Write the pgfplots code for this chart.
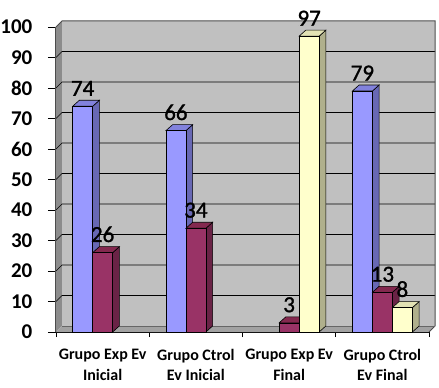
\documentclass[border=0pt]{standalone}
\usepackage{pgfplots}
\pgfplotsset{compat=1.18}
\usepackage{fontspec}
\setmainfont{Carlito}
\newfontface\vfont[FakeBold=1.2]{Carlito}
\definecolor{bF}{HTML}{9999FF}\definecolor{bS}{HTML}{6868B4}\definecolor{bT}{HTML}{8282DC}
\definecolor{mF}{HTML}{993366}\definecolor{mS}{HTML}{6A2346}\definecolor{mT}{HTML}{84294F}
\definecolor{yF}{HTML}{FFFFCC}\definecolor{yS}{HTML}{B0B08C}\definecolor{yT}{HTML}{E2E2B4}
\definecolor{wallB}{HTML}{C0C0C0}\definecolor{wallL}{HTML}{8C8C8C}\definecolor{floorC}{HTML}{A2A2A2}
% 3D bar: #1 centre x, #2 value, #3 front, #4 side, #5 top
\newcommand\tdbar[5]{%
 \pgfmathsetmacro\xl{#1-0.10725}%
 \pgfmathsetmacro\xr{#1+0.10725}%
 \pgfmathsetmacro\xrd{#1+0.10725+0.072}%
 \pgfmathsetmacro\xld{#1-0.10725+0.072}%
 \pgfmathsetmacro\yd{#2+1.97}%
 \edef\tmp{%
  \noexpand\addplot[fill=#4,draw=black,line width=0.6pt] coordinates {(\xr,0) (\xrd,1.97) (\xrd,\yd) (\xr,#2)} -- cycle;
  \noexpand\addplot[fill=#5,draw=black,line width=0.6pt] coordinates {(\xl,#2) (\xld,\yd) (\xrd,\yd) (\xr,#2)} -- cycle;
  \noexpand\addplot[fill=#3,draw=black,line width=0.6pt] coordinates {(\xl,0) (\xr,0) (\xr,#2) (\xl,#2)} -- cycle;
 }\tmp}
\pgfplotsset{vlabel/.style={draw=none, mark=none, nodes near coords, nodes near coords style={text=black, font=\vfont\fontsize{23}{23}\selectfont, anchor=south, yshift=7pt}}}
\begin{document}
\begin{tikzpicture}
\begin{axis}[
 scale only axis, width=373pt, height=305pt,
 xmin=-0.5, xmax=3.5, ymin=0, ymax=100,
 clip=false,
 axis x line*=bottom, axis y line*=left,
 axis line style={black, line width=0.8pt},
 xtick={0,1,2,3},
 xticklabels={Grupo Exp Ev\\Inicial, Grupo Ctrol\\Ev Inicial, Grupo Exp Ev\\Final, Grupo Ctrol\\Ev Final},
 major x tick style={draw=none},
 minor xtick={-0.5,0.5,1.5,2.5,3.5},
 ytick={0,10,...,100},
 tick align=outside, major tick length=8pt, minor tick length=5pt,
 tick style={black, line width=0.8pt},
 /pgf/number format/assume math mode=true,
 yticklabel style={font=\fontsize{21}{21}\selectfont\bfseries, inner sep=0pt, xshift=-15.5pt},
 xticklabel style={font=\fontsize{16}{20.5}\selectfont\bfseries, align=center, inner sep=0pt, yshift=-9pt},
]
% walls and floor
\fill[wallL] (axis cs:-0.5,0) -- ([shift={(6pt,6pt)}]axis cs:-0.5,0) -- ([shift={(6pt,6pt)}]axis cs:-0.5,100) -- (axis cs:-0.5,100) -- cycle;
\fill[wallB] ([shift={(6pt,6pt)}]axis cs:-0.5,0) rectangle ([shift={(6pt,6pt)}]axis cs:3.5,100);
\fill[floorC] (axis cs:-0.5,0) -- (axis cs:3.5,0) -- ([shift={(6pt,6pt)}]axis cs:3.5,0) -- ([shift={(6pt,6pt)}]axis cs:-0.5,0) -- cycle;
\pgfplotsinvokeforeach{10,20,...,90}{
 \draw[black, line width=0.6pt] (axis cs:-0.5,#1) -- ([shift={(6pt,6pt)}]axis cs:-0.5,#1) -- ([shift={(6pt,6pt)}]axis cs:3.5,#1);
}
\draw[black!70, line width=1pt] (axis cs:-0.5,100) -- ([shift={(6pt,6pt)}]axis cs:-0.5,100) -- ([shift={(6pt,6pt)}]axis cs:3.5,100) -- ([shift={(6pt,6pt)}]axis cs:3.5,0) -- (axis cs:3.5,0);
\draw[black!60, line width=0.6pt] ([shift={(6pt,6pt)}]axis cs:-0.5,0) -- ([shift={(6pt,6pt)}]axis cs:3.5,0);
\draw[black!70, line width=1pt] (axis cs:-0.5,0) -- (axis cs:-0.5,100);
% maroon labels (drawn first, partly hidden by the blue bars)
\addplot[vlabel] coordinates {(0,26) (1,34) (2,3) (3,13)};
% bars
\tdbar{-0.2145}{74}{bF}{bS}{bT}
\tdbar{0}{26}{mF}{mS}{mT}
\tdbar{0.7855}{66}{bF}{bS}{bT}
\tdbar{1}{34}{mF}{mS}{mT}
\tdbar{2}{3}{mF}{mS}{mT}
\tdbar{2.2145}{97}{yF}{yS}{yT}
\tdbar{2.7855}{79}{bF}{bS}{bT}
\tdbar{3}{13}{mF}{mS}{mT}
\tdbar{3.2145}{8}{yF}{yS}{yT}
% labels
\addplot[vlabel] coordinates {(-0.2145,74) (0.7855,66) (2.7855,79)};
\addplot[vlabel] coordinates {(2.2145,97) (3.2145,8)};
\end{axis}
\path (current axis.south west) ++(-56pt,-56pt) rectangle ++(439pt,388pt);
\end{tikzpicture}
\end{document}
